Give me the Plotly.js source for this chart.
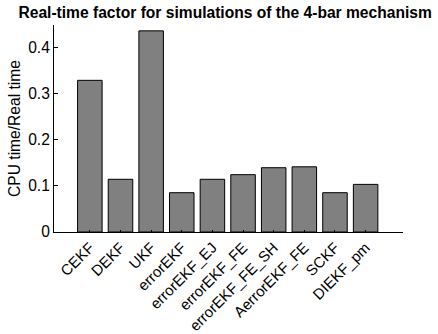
<!DOCTYPE html>
<html>
<head>
<meta charset="utf-8">
<script src="https://cdn.plot.ly/plotly-3.0.1.min.js"></script>
<style>html,body{margin:0;padding:0;background:#fff;}#chart{width:438px;height:334px;}</style>
</head>
<body>
<div id="chart"></div>
<script>
const categories = ["CEKF","DEKF","UKF","errorEKF","errorEKF_EJ","errorEKF_FE","errorEKF_FE_SH","AerrorEKF_FE","SCKF","DIEKF_pm"];
const realTimeFactor = [0.328, 0.114, 0.435, 0.085, 0.114, 0.124, 0.139, 0.141, 0.085, 0.103];
const yTickVals = [0, 0.1, 0.2, 0.3, 0.4];
const yTickText = ["0", "0.1", "0.2", "0.3", "0.4"];

const font = "Liberation Sans, Arial, Helvetica, sans-serif";
const data = [{
  type: "bar",
  x: categories.map((c, i) => i),
  y: realTimeFactor,
  width: 0.8,
  marker: {color: "#808080", line: {color: "#000000", width: 1}},
  hoverinfo: "none"
}];
const layout = {
  width: 438, height: 334,
  margin: {l: 54, r: 35, t: 25, b: 102},
  paper_bgcolor: "#ffffff", plot_bgcolor: "#ffffff",
  showlegend: false,
  title: {text: "<b>Real-time factor for simulations of the 4-bar mechanism</b>", font: {family: font, size: 15.6, color: "#000"}, x: 0.514, xanchor: "center", y: 0.962, yanchor: "middle"},
  xaxis: {
    range: [-1.17, 10.22], tickmode: "array", tickvals: categories.map((c, i) => i), ticktext: categories,
    tickangle: -45, ticks: "inside", ticklen: 2, tickcolor: "#000", showgrid: false, zeroline: false,
    showline: true, linecolor: "#000", linewidth: 1, tickfont: {family: font, size: 15, color: "#000"}
  },
  yaxis: {
    range: [0, 0.4477], tickmode: "array", tickvals: yTickVals, ticktext: yTickText,
    ticks: "inside", ticklen: 4, tickcolor: "#000", showgrid: false, zeroline: false,
    showline: true, linecolor: "#000", linewidth: 1, tickfont: {family: font, size: 15.6, color: "#000"},
    title: {text: "CPU time/Real time", font: {family: font, size: 15.6, color: "#000"}, standoff: 3}
  }
};
Plotly.newPlot("chart", data, layout, {staticPlot: true, displayModeBar: false});
</script>
</body>
</html>
